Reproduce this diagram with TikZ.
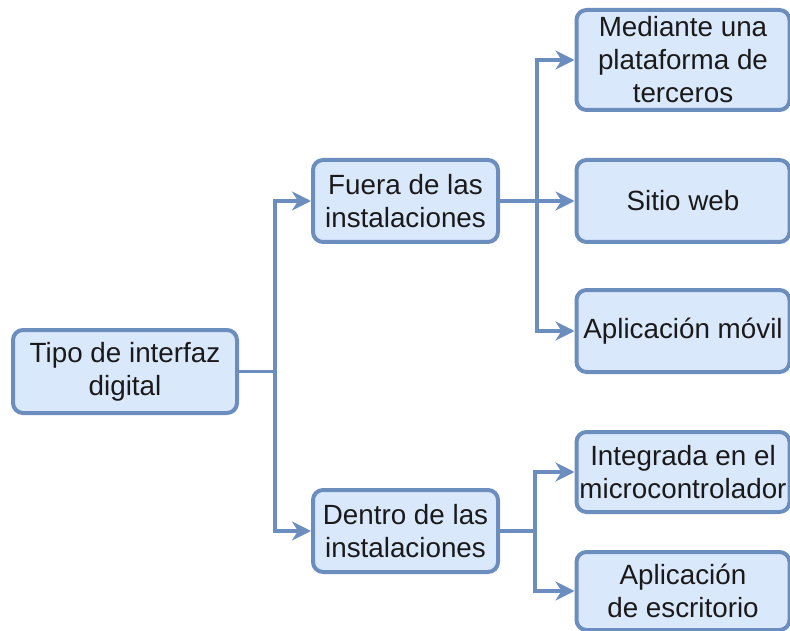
\documentclass[tikz,border=0pt]{standalone}
\usepackage{fontspec}
\setmainfont{Liberation Sans}
\usetikzlibrary{arrows.meta}
\definecolor{boxfill}{HTML}{DAE8FC}
\definecolor{boxline}{HTML}{6C8EBF}
\definecolor{txt}{HTML}{1A1A1A}
\begin{document}
\begin{tikzpicture}[x=1pt,y=-1pt,
  box/.style={draw=boxline, fill=boxfill, line width=4pt, rounded corners=10pt,
    align=center, inner sep=0pt, text=txt,
    font=\fontsize{27.8}{33}\selectfont},
  conn/.style={draw=boxline, line width=3.3pt},
  arr/.style={conn, -{Stealth[length=19pt,width=19pt,inset=6pt]}}
]
\useasboundingbox (0,0) rectangle (790,631);
\node[box, minimum width=224pt, minimum height=83pt] (root) at (125,371.5) {Tipo de interfaz\\digital};
\node[box, minimum width=185pt, minimum height=82pt] (fuera) at (405.5,201) {Fuera de las\\instalaciones};
\node[box, minimum width=185pt, minimum height=82pt] (dentro) at (405.5,531) {Dentro de las\\instalaciones};
\node[box, minimum width=213pt, minimum height=100pt] (med) at (683,60) {Mediante una\\plataforma de\\terceros};
\node[box, minimum width=213pt, minimum height=82pt] (sitio) at (683,201) {Sitio web};
\node[box, minimum width=213pt, minimum height=82pt] (movil) at (683,331) {Aplicación móvil};
\node[box, minimum width=213pt, minimum height=80pt] (integ) at (683,472) {Integrada en el\\microcontrolador};
\node[box, minimum width=213pt, minimum height=78pt] (escr) at (683,591) {Aplicación\\de escritorio};

\coordinate (t1) at (275,0);
\coordinate (t2) at (537,0);
\coordinate (t3) at (535,0);

\draw[arr] (root.east) -- (root.east -| t1) |- (fuera.west);
\draw[arr] (root.east) -- (root.east -| t1) |- (dentro.west);
\draw[arr] (fuera.east) -- (sitio.west);
\draw[arr] (fuera.east) -- (fuera.east -| t2) |- (med.west);
\draw[arr] (fuera.east) -- (fuera.east -| t2) |- (movil.west);
\draw[arr] (dentro.east) -- (dentro.east -| t3) |- (integ.west);
\draw[arr] (dentro.east) -- (dentro.east -| t3) |- (escr.west);
\end{tikzpicture}
\end{document}
